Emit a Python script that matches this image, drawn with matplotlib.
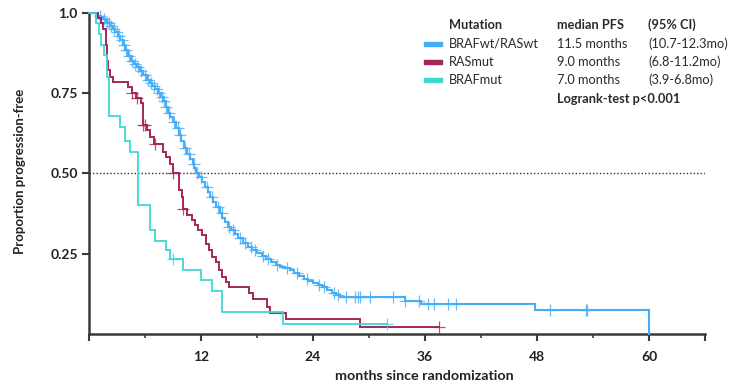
import numpy as np
import matplotlib
matplotlib.use("Agg")
import matplotlib.pyplot as plt

plt.rcParams['font.family'] = ['Lato', 'DejaVu Sans']

# ---------------- data ----------------
series_names = ["BRAFwt/RASwt", "RASmut", "BRAFmut"]
median_pfs = ["11.5 months", "9.0 months", "7.0 months"]
ci_text = ["(10.7-12.3mo)", "(6.8-11.2mo)", "(3.9-6.8mo)"]
colors = ["#45AEF7", "#A2275A", "#3ED8D2"]

wt_times = [0.8, 1.0, 1.3, 1.5, 1.8, 2.0, 2.3, 2.6, 2.8, 3.1, 3.3, 3.6, 3.9, 4.2, 4.5,
            4.8, 5.1, 5.5, 5.8, 6.2, 6.5, 6.8, 7.1, 7.4, 7.7, 7.9, 8.2, 8.5, 8.7, 9.0,
            9.3, 9.6, 9.9, 10.2, 10.5, 10.8, 11.1, 11.3, 11.5, 11.8, 12.1, 12.4, 12.7,
            13.0, 13.3, 13.6, 14.0, 14.3, 14.6, 14.9, 15.2, 15.6, 16.0, 16.5, 17.0,
            17.5, 18.0, 18.5, 19.0, 19.5, 20.0, 20.5, 21.0, 21.5, 22.0, 22.5, 23.0,
            23.5, 24.0, 24.5, 25.0, 25.5, 26.0, 26.5, 26.9, 33.9, 35.6, 47.8, 59.95]
wt_surv = [0.996, 0.99, 0.985, 0.98, 0.972, 0.966, 0.958, 0.948, 0.94, 0.926, 0.913,
           0.898, 0.882, 0.866, 0.85, 0.84, 0.83, 0.818, 0.805, 0.79, 0.78, 0.772,
           0.762, 0.75, 0.738, 0.724, 0.705, 0.688, 0.675, 0.658, 0.64, 0.62, 0.60,
           0.578, 0.56, 0.545, 0.528, 0.515, 0.50, 0.488, 0.472, 0.458, 0.442, 0.426,
           0.41, 0.395, 0.377, 0.362, 0.348, 0.334, 0.322, 0.31, 0.298, 0.283, 0.272,
           0.262, 0.252, 0.243, 0.233, 0.224, 0.216, 0.209, 0.204, 0.198, 0.19, 0.18,
           0.172, 0.165, 0.159, 0.152, 0.145, 0.137, 0.129, 0.121, 0.114, 0.103,
           0.093, 0.075, 0.0]
wt_censor = [1.2, 1.6, 1.9, 2.1, 2.4, 2.7, 3.0, 3.2, 3.5, 3.7, 4.0, 4.3, 4.6, 4.9, 5.3,
             5.6, 6.0, 6.3, 6.6, 7.0, 7.3, 7.5, 7.8, 8.0, 8.3, 8.6, 9.1, 9.5, 9.8, 10.3,
             10.7, 11.2, 11.6, 12.0, 12.6, 13.2, 13.8, 14.2, 15.0, 15.4, 16.2, 16.7,
             17.4, 17.8, 18.6, 19.2, 20.1, 21.2, 22.3, 23.4, 24.6, 25.2, 26.2, 26.7,
             27.5, 28.5, 28.8, 29.0, 30.1, 32.6, 33.9, 35.4, 36.3, 37.0, 38.5, 39.3,
             49.4, 53.2, 53.4]

ras_times = [1.0, 1.3, 1.5, 1.8, 1.9, 2.0, 2.3, 2.6, 4.2, 4.6, 5.0, 5.6, 5.8, 6.2, 6.5,
             7.0, 7.9, 8.2, 8.7, 9.0, 9.67, 9.93, 10.1, 10.47, 11.0, 11.36, 11.7,
             12.07, 12.5, 12.9, 13.2, 13.6, 13.9, 14.25, 14.7, 15.05, 17.1, 17.6,
             19.1, 19.35, 21.15, 29.0]
ras_surv = [0.983, 0.967, 0.95, 0.90, 0.85, 0.82, 0.80, 0.783, 0.767, 0.75, 0.733,
            0.717, 0.65, 0.633, 0.613, 0.592, 0.567, 0.55, 0.53, 0.50, 0.447, 0.426,
            0.39, 0.37, 0.354, 0.34, 0.323, 0.307, 0.28, 0.26, 0.24, 0.224, 0.20,
            0.178, 0.162, 0.147, 0.128, 0.108, 0.085, 0.064, 0.046, 0.023]
ras_censor = [4.6, 5.1, 5.8, 6.0, 7.1, 9.0, 10.1, 37.5]

braf_times = [0.8, 1.1, 1.3, 1.6, 1.9, 2.1, 3.3, 3.9, 4.4, 5.3, 6.5, 7.07, 8.2, 8.7,
              10.1, 12.0, 13.15, 14.2, 20.8]
braf_surv = [0.967, 0.933, 0.90, 0.867, 0.80, 0.677, 0.644, 0.60, 0.567, 0.40, 0.323,
             0.29, 0.26, 0.233, 0.20, 0.168, 0.134, 0.067, 0.031]
braf_censor = [9.0, 31.9]

x_ticks = [12, 24, 36, 48, 60]
y_ticks = [0.25, 0.50, 0.75, 1.0]
y_ticklabels = ["0.25", "0.50", "0.75", "1.0"]

# ---------------- figure ----------------
fig = plt.figure(figsize=(7.36, 3.84), dpi=100)
ax = fig.add_axes([89/736, 1 - 334/384, (705 - 89)/736, (334 - 12.5)/384])

def surv_at(times, surv, t):
    idx = np.searchsorted(np.asarray(times), t, side='right')
    s = np.concatenate([[1.0], surv])
    return s[idx]

all_series = [(wt_times, wt_surv, wt_censor),
              (ras_times, ras_surv, ras_censor),
              (braf_times, braf_surv, braf_censor)]
lws = [1.5, 1.4, 1.3]

for (times, surv, cens), col, lw, z in zip(all_series, colors, lws, [3, 4, 5]):
    xs = [0] + list(times)
    ys = [1.0] + list(surv)
    end = max(cens)
    if end > xs[-1]:
        xs.append(end)
        ys.append(ys[-1])
    ax.plot(xs, ys, drawstyle='steps-post', color=col, lw=lw, zorder=z,
            clip_on=False, solid_joinstyle='miter')
    cy = [surv_at(times, surv, c) for c in cens]
    ax.plot(cens, cy, linestyle='none', marker='+', ms=8, mew=0.9,
            color=col, alpha=0.8, zorder=z, clip_on=False)

ax.axhline(0.5, color='#333333', lw=1.0, linestyle=(0, (1, 1.5)), zorder=2)

ax.set_xlim(0, 66)
ax.set_ylim(0, 1.0)

for s in ['top', 'right']:
    ax.spines[s].set_visible(False)
for s in ['left', 'bottom']:
    ax.spines[s].set_color('#3a3a3a')
    ax.spines[s].set_linewidth(1.8)

ax.set_xticks([0] + x_ticks + [66])
ax.set_xticklabels([""] + [str(v) for v in x_ticks] + [""])
ax.set_xticks([6, 18, 30, 42, 54], minor=True)
ax.set_yticks(y_ticks)
ax.set_yticklabels(y_ticklabels)
ax.tick_params(axis='y', which='major', length=5, width=1.5, color='#3a3a3a',
               labelsize=10, pad=3)
ax.tick_params(axis='x', which='major', length=5, width=1.5, color='#3a3a3a',
               labelsize=10, pad=7)
ax.tick_params(axis='x', which='minor', length=3, width=1.2, color='#3a3a3a')
for lab in ax.get_xticklabels() + ax.get_yticklabels():
    lab.set_fontweight('bold')
    lab.set_color('#222222')

fig.text(20/736, 1 - 171/384, "Proportion progression-free", rotation=90,
         ha='center', va='center', fontsize=9.5, fontweight='bold', color='#222222')
fig.text(424/736, 1 - 376/384, "months since randomization", ha='center',
         va='center', fontsize=10.3, fontweight='bold', color='#222222')

# legend table
fs = 9.2
tc = '#2a2a2a'
def fy(py):
    return 1 - py/384
fig.text(449/736, fy(25), "Mutation", fontsize=fs, fontweight='bold', color=tc, va='center')
fig.text(557/736, fy(25), "median PFS", fontsize=fs, fontweight='bold', color=tc, va='center')
fig.text(648/736, fy(25), "(95% CI)", fontsize=fs, fontweight='bold', color=tc, va='center')
row_y = [43.5, 61.5, 80]
for name, med, ci, col, py in zip(series_names, median_pfs, ci_text, colors, row_y):
    fig.patches.append(matplotlib.patches.Rectangle((423.5/736, fy(py + 2)), 18/736, 4/384,
                                                    transform=fig.transFigure,
                                                    color=col, figure=fig))
    fig.text(449/736, fy(py), name, fontsize=fs, color=tc, va='center')
    fig.text(557/736, fy(py), med, fontsize=fs, color=tc, va='center')
    fig.text(648/736, fy(py), ci, fontsize=fs, color=tc, va='center')
fig.text(557/736, fy(99), "Logrank-test p<0.001", fontsize=fs, fontweight='bold',
         color=tc, va='center')

fig.savefig("out.png", dpi=100)
